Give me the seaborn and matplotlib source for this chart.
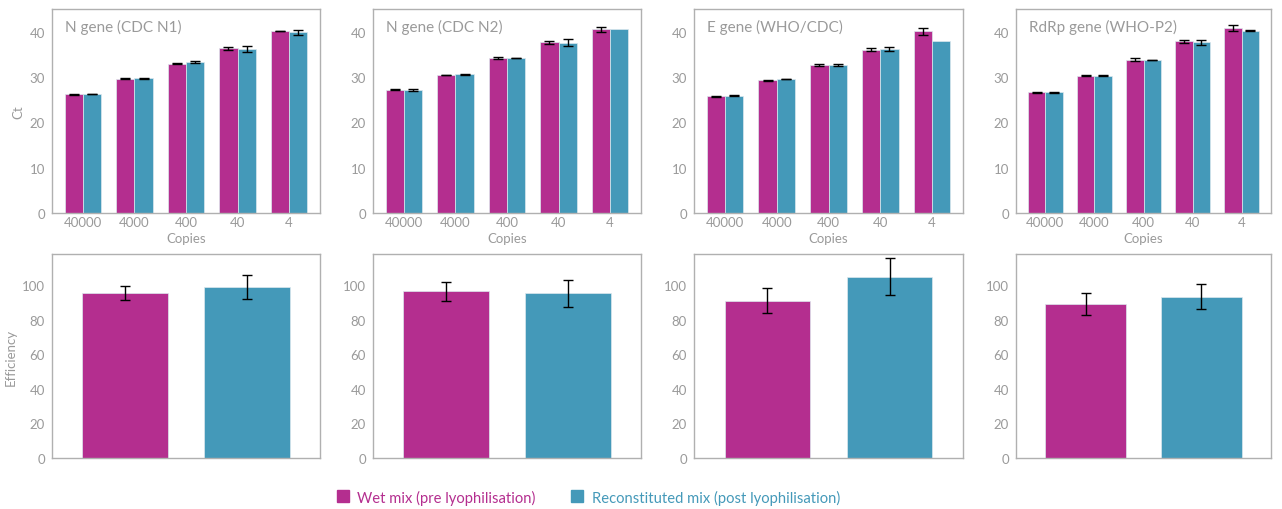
import numpy as np
import pandas as pd
import matplotlib
matplotlib.use("Agg")
import matplotlib.pyplot as plt
import seaborn as sns
from matplotlib.lines import Line2D

sns.set_theme(style="white")
plt.rcParams['font.family'] = ['Lato', 'DejaVu Sans']

genes = ["N gene (CDC N1)", "N gene (CDC N2)", "E gene (WHO/CDC)", "RdRp gene (WHO-P2)"]
copies = ["40000", "4000", "400", "40", "4"]
mixes = ["Wet mix (pre lyophilisation)", "Reconstituted mix (post lyophilisation)"]

ct_wet = [
    [26.2, 29.6, 32.9, 36.3, 40.15],
    [27.2, 30.4, 34.2, 37.65, 40.5],
    [25.7, 29.3, 32.7, 36.0, 40.1],
    [26.6, 30.3, 33.8, 37.9, 40.8],
]
ct_wet_err = [
    [0.1, 0.1, 0.1, 0.3, 0.05],
    [0.05, 0.05, 0.3, 0.3, 0.6],
    [0.15, 0.1, 0.2, 0.3, 0.8],
    [0.05, 0.05, 0.3, 0.3, 0.6],
]
ct_rec = [
    [26.2, 29.7, 33.3, 36.2, 39.85],
    [27.1, 30.6, 34.2, 37.6, 40.5],
    [25.9, 29.5, 32.7, 36.1, 38.0],
    [26.6, 30.3, 33.8, 37.65, 40.2],
]
ct_rec_err = [
    [0.05, 0.05, 0.2, 0.6, 0.55],
    [0.15, 0.1, 0.1, 0.7, 0.0],
    [0.1, 0.05, 0.25, 0.45, 0.0],
    [0.05, 0.05, 0.05, 0.5, 0.15],
]
eff_wet = [95.6, 96.5, 91.1, 89.2]
eff_wet_err = [4.0, 5.5, 7.2, 6.5]
eff_rec = [98.8, 95.4, 104.8, 93.2]
eff_rec_err = [7.0, 7.8, 10.6, 7.2]

MAG = "#B42E8F"
BLU = "#4499B9"
GREY = "#9a9a9a"
SPINE = "#b0b0b0"
palette = {mixes[0]: MAG, mixes[1]: BLU}

fig = plt.figure(figsize=(12.82, 5.10), dpi=100)
W, H = 1282, 510
lefts = [52, 373, 694, 1016]
rights = [320, 641, 963, 1271]

def style_ax(ax):
    for s in ax.spines.values():
        s.set_color(SPINE)
        s.set_linewidth(1.0)
    ax.tick_params(axis='both', colors=GREY, labelsize=9.5, length=3, width=0.8, labelcolor=GREY, pad=2)
    ax.tick_params(axis='x', length=0)

def add_err(ax, errs_by_hue):
    patches = [p for p in ax.patches if p.get_width() > 0]
    flat_err = [e for errs in errs_by_hue for e in errs]
    for p, e in zip(patches, flat_err):
        if e > 0:
            ax.errorbar(p.get_x() + p.get_width() / 2, p.get_height(), yerr=e,
                        fmt='none', ecolor='black', elinewidth=1.0, capsize=3.5, capthick=1.0, zorder=5)

for i, g in enumerate(genes):
    l, r = lefts[i], rights[i]
    ax = fig.add_axes([l / W, 1 - 214 / H, (r - l) / W, (214 - 10) / H])
    df = pd.DataFrame({
        "Copies": copies * 2,
        "Ct": ct_wet[i] + ct_rec[i],
        "Mix": [mixes[0]] * 5 + [mixes[1]] * 5,
    })
    sns.barplot(data=df, x="Copies", y="Ct", hue="Mix", order=copies, hue_order=mixes,
                palette=palette, width=0.71, errorbar=None, saturation=1, ax=ax,
                edgecolor="#dde8ee", linewidth=0.5, legend=False)
    add_err(ax, [ct_wet_err[i], ct_rec_err[i]])
    ax.set_ylim(0, 45)
    ax.set_xlim(-0.6, 4.6)
    ax.set_yticks([0, 10, 20, 30, 40])
    ax.set_xlabel("Copies", color=GREY, fontsize=9.5, labelpad=3)
    ax.set_ylabel("Ct" if i == 0 else "", color=GREY, fontsize=9.5)
    ax.text(0.05, 0.95, g, transform=ax.transAxes, ha='left', va='top', color=GREY, fontsize=11)
    style_ax(ax)

    ax2 = fig.add_axes([l / W, 1 - 459 / H, (r - l) / W, (459 - 255) / H])
    df2 = pd.DataFrame({"Mix": mixes, "Efficiency": [eff_wet[i], eff_rec[i]]})
    sns.barplot(data=df2, x="Mix", y="Efficiency", hue="Mix", order=mixes, hue_order=mixes,
                palette=palette, width=0.70, errorbar=None, saturation=1, ax=ax2,
                edgecolor="#dde8ee", linewidth=0.5, legend=False, dodge=False)
    patches = [p for p in ax2.patches if p.get_height() > 0]
    for p in patches:
        cx = p.get_x() + p.get_width() / 2
        idx = int(round(cx))
        e = [eff_wet_err[i], eff_rec_err[i]][idx]
        ax2.errorbar(cx, p.get_height(), yerr=e, fmt='none', ecolor='black',
                     elinewidth=1.0, capsize=3.5, capthick=1.0, zorder=5)
    ax2.set_ylim(0, 118)
    ax2.set_xlim(-0.6, 1.6)
    ax2.set_yticks([0, 20, 40, 60, 80, 100])
    ax2.set_xticks([])
    ax2.set_xlabel("")
    ax2.set_ylabel("Efficiency" if i == 0 else "", color=GREY, fontsize=9.5)
    style_ax(ax2)

handles = [Line2D([0], [0], marker='s', linestyle='none', markersize=8,
                  markerfacecolor=MAG, markeredgecolor=MAG),
           Line2D([0], [0], marker='s', linestyle='none', markersize=8,
                  markerfacecolor=BLU, markeredgecolor=BLU)]
leg = fig.legend(handles, mixes, loc='center', bbox_to_anchor=(587 / W, 1 - 498 / H),
                 ncol=2, frameon=False, fontsize=10.6, handletextpad=0.4, columnspacing=2.2,
                 handlelength=1.2)
for t, c in zip(leg.get_texts(), [MAG, BLU]):
    t.set_color(c)

fig.savefig("out.png", dpi=100)
